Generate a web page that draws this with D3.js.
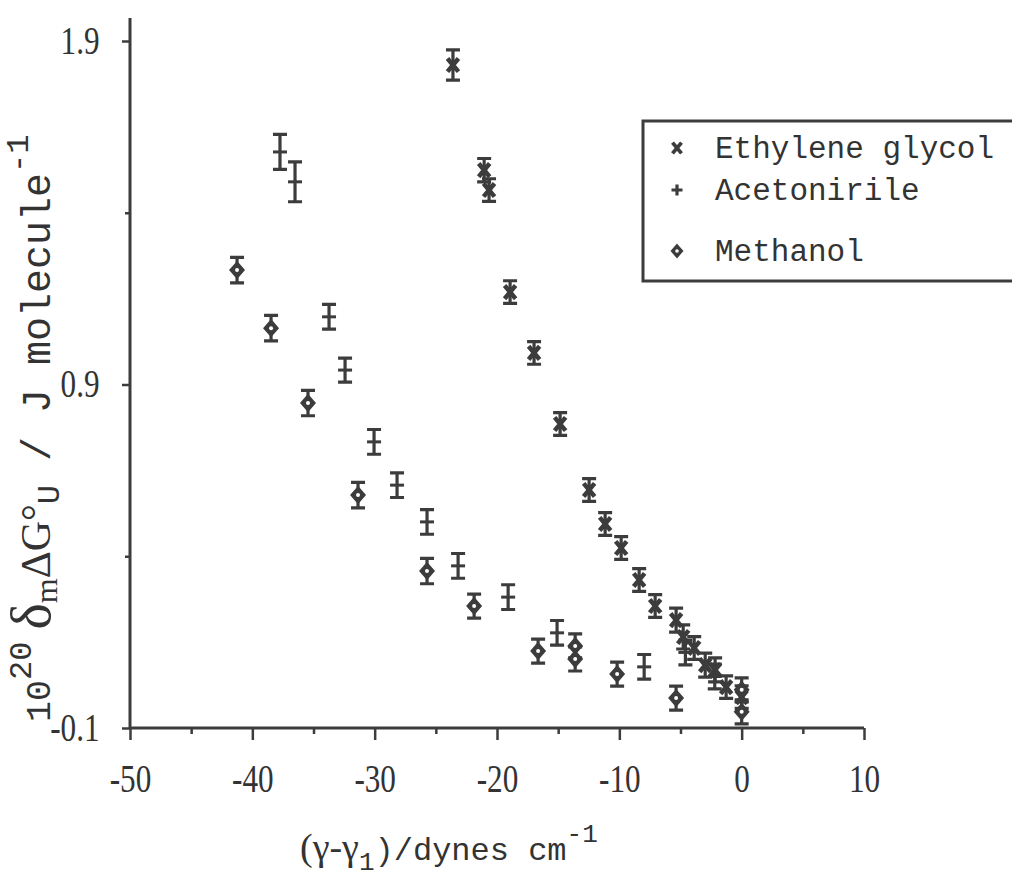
<!DOCTYPE html>
<html>
<head>
<meta charset="utf-8">
<script src="https://cdn.jsdelivr.net/npm/d3@7"></script>
<style>
  html, body { margin: 0; padding: 0; background: #fff; }
  svg { display: block; }
  .tick text { font-family: "Liberation Serif", "DejaVu Serif", serif; fill: #333; }
  .mono { font-family: "Liberation Mono", "DejaVu Sans Mono", monospace; fill: #333; }
  .serif { font-family: "Liberation Serif", "DejaVu Serif", serif; fill: #333; }
</style>
</head>
<body>
<svg id="chart" width="1012" height="895"></svg>
<script>
// values
const xTicks = [-50, -40, -30, -20, -10, 0, 10];
const xMinor = [-45, -35, -25, -15, -5, 5];
const yTicks = [-0.1, 0.9, 1.9];
const yMinor = [0.4, 1.4];

const seriesNames = ['Ethylene glycol', 'Acetonirile', 'Methanol'];

const glycolX = [-23.6, -21.05, -20.65, -18.93, -16.97, -14.84, -12.47, -11.16, -9.85, -8.38, -7.07, -5.36, -4.78, -3.88, -2.98, -2.17, -1.27, 0];
const glycolY = [1.83, 1.524, 1.466, 1.169, 0.992, 0.785, 0.593, 0.494, 0.424, 0.331, 0.255, 0.214, 0.165, 0.133, 0.083, 0.069, 0.019, -0.01];
const glycolErr = [0.044, 0.034, 0.033, 0.033, 0.033, 0.033, 0.033, 0.033, 0.033, 0.033, 0.033, 0.035, 0.035, 0.033, 0.035, 0.035, 0.033, 0.033];

const acetoX = [-37.74, -36.51, -33.73, -32.42, -30.05, -28.17, -25.72, -23.18, -19.09, -15.09, -7.97, -4.6, -2.2];
const acetoY = [1.577, 1.49, 1.097, 0.942, 0.733, 0.607, 0.5, 0.372, 0.281, 0.177, 0.078, 0.12, 0.05];
const acetoErr = [0.051, 0.058, 0.036, 0.035, 0.036, 0.036, 0.036, 0.036, 0.036, 0.036, 0.036, 0.036, 0.036];

const methX = [-41.25, -38.47, -35.45, -31.36, -25.72, -21.87, -16.64, -13.61, -13.61, -10.18, -5.36, 0, 0];
const methY = [1.233, 1.064, 0.846, 0.578, 0.357, 0.255, 0.124, 0.139, 0.101, 0.057, -0.013, 0.011, -0.053];
const methErr = [0.037, 0.037, 0.037, 0.037, 0.037, 0.035, 0.035, 0.035, 0.035, 0.035, 0.035, 0.035, 0.035];

const ink = '#3c3c3c';
const svg = d3.select('#chart');

const x = d3.scaleLinear().domain([-50, 10]).range([130, 864]);
const y = d3.scaleLinear().domain([-0.1, 1.9]).range([728, 41]);

// axes
const gx = svg.append('g').attr('transform', `translate(0,${y(-0.1)})`);
gx.call(d3.axisBottom(x).tickValues(xTicks).tickSize(12).tickPadding(24).tickFormat(d => String(d)));
gx.append('g').call(d3.axisBottom(x).tickValues(xMinor).tickSize(6).tickFormat(''))
  .select('.domain').remove();
gx.selectAll('.domain').attr('d', `M${x(-50)},0H${x(10)}`);

const gy = svg.append('g').attr('transform', `translate(${x(-50)},0)`);
gy.call(d3.axisLeft(y).tickValues(yTicks).tickSize(8).tickPadding(30).tickFormat(d => String(d)));
gy.append('g').call(d3.axisLeft(y).tickValues(yMinor).tickSize(5).tickFormat(''))
  .select('.domain').remove();
gy.selectAll('.domain').attr('d', `M0,${y(-0.1)}V${y(1.9) - 23}`);

svg.selectAll('.domain').attr('stroke', ink).attr('stroke-width', 3);
svg.selectAll('.tick line').attr('stroke', ink).attr('stroke-width', 2.5);
svg.selectAll('.tick text').attr('fill', '#333').style('font-size', '39px')
  .attr('transform', 'scale(0.8,1)');

// error bars and markers
function errorBars(xs, ys, es) {
  const g = svg.append('g').attr('stroke', ink).attr('stroke-width', 3.2).attr('fill', 'none');
  xs.forEach((v, i) => {
    const cx = x(v), y0 = y(ys[i] - es[i]), y1 = y(ys[i] + es[i]);
    g.append('path').attr('d', `M${cx},${y0}V${y1}M${cx - 7},${y0}H${cx + 7}M${cx - 7},${y1}H${cx + 7}`);
  });
}
errorBars(glycolX, glycolY, glycolErr);
errorBars(acetoX, acetoY, acetoErr);
errorBars(methX, methY, methErr);

const crossPath = s => `M${-s},${-s * 1.2}L${s},${s * 1.2}M${s},${-s * 1.2}L${-s},${s * 1.2}`;
const plusPath = s => `M${-s},0H${s}M0,${-s}V${s}`;
const diamondPath = s => `M0,${-s * 1.15}L${s},0L0,${s * 1.15}L${-s},0Z`;

svg.append('g').selectAll('path').data(glycolX).join('path')
  .attr('transform', (d, i) => `translate(${x(d)},${y(glycolY[i])})`)
  .attr('d', crossPath(5.5)).attr('stroke', ink).attr('stroke-width', 4.5).attr('fill', 'none');

svg.append('g').selectAll('path').data(acetoX).join('path')
  .attr('transform', (d, i) => `translate(${x(d)},${y(acetoY[i])})`)
  .attr('d', 'M-7,0H7').attr('stroke', ink).attr('stroke-width', 3).attr('fill', 'none');

const mg = svg.append('g').selectAll('g').data(methX).join('g')
  .attr('transform', (d, i) => `translate(${x(d)},${y(methY[i])})`);
mg.append('path').attr('d', diamondPath(7)).attr('fill', ink).attr('stroke', ink).attr('stroke-width', 1.5);
mg.append('circle').attr('r', 2).attr('fill', '#fff');

// legend
const leg = svg.append('g');
leg.append('rect').attr('x', 643).attr('y', 121).attr('width', 400).attr('height', 160)
  .attr('fill', 'none').attr('stroke', ink).attr('stroke-width', 3);
const legY = [148, 190, 251];
seriesNames.forEach((name, i) => {
  const row = leg.append('g').attr('transform', `translate(677,${legY[i]})`);
  if (i === 0) row.append('path').attr('d', crossPath(4.5)).attr('stroke', ink).attr('stroke-width', 3.8);
  if (i === 1) row.append('path').attr('d', plusPath(5.5)).attr('stroke', ink).attr('stroke-width', 3.2);
  if (i === 2) {
    row.append('path').attr('d', diamondPath(5.5)).attr('fill', ink).attr('stroke', ink).attr('stroke-width', 1.5);
    row.append('circle').attr('r', 1.8).attr('fill', '#fff');
  }
  leg.append('text').attr('class', 'mono').attr('x', 715).attr('y', legY[i] + 10)
    .style('font-size', '31px').text(name);
});

// x axis title
const xt = svg.append('text').attr('x', 300).attr('y', 860).attr('class', 'mono').style('font-size', '32px');
xt.append('tspan').attr('class', 'serif').style('font-size', '38px').text('(γ-γ');
xt.append('tspan').attr('class', 'mono').style('font-size', '26px').attr('dy', 10).text('1');
xt.append('tspan').attr('class', 'mono').attr('dy', -10).text(')/dynes cm');
xt.append('tspan').attr('class', 'mono').style('font-size', '26px').attr('dy', -18).text('-1');

// y axis title
const yt = svg.append('text').attr('class', 'mono').style('font-size', '40px')
  .attr('transform', 'translate(50,722) rotate(-90)');
yt.append('tspan').style('font-size', '35px').text('10');
yt.append('tspan').style('font-size', '32px').attr('dy', -19).text('20');
yt.append('tspan').attr('class', 'serif').style('font-size', '56px').attr('dy', 19).attr('dx', 12).text('δ');
yt.append('tspan').attr('class', 'serif').style('font-size', '32px').attr('dy', 7).text('m');
yt.append('tspan').attr('class', 'serif').style('font-size', '42px').attr('dy', -7).text('ΔG°');
yt.append('tspan').style('font-size', '32px').attr('dy', 9).text('U');
yt.append('tspan').attr('dy', -9).text(' / J molecule');
yt.append('tspan').style('font-size', '32px').attr('dy', -22).text('-1');
</script>
</body>
</html>
